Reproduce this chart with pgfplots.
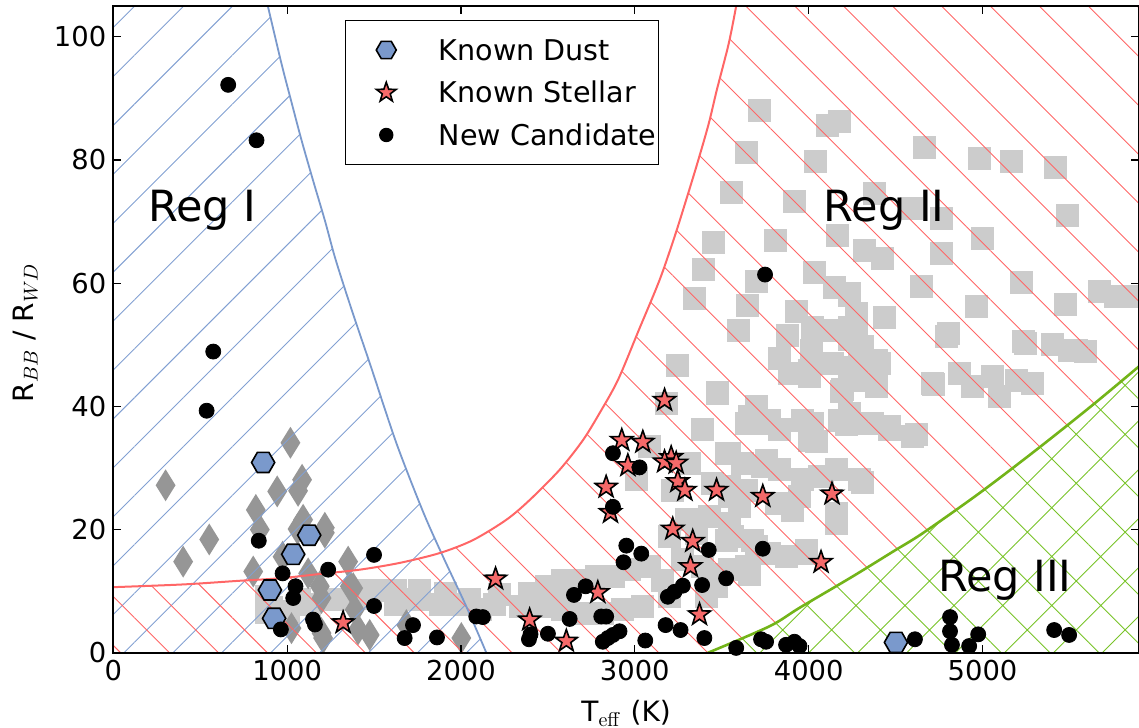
\documentclass[border=0pt]{standalone}
\usepackage[no-math]{fontspec}
\setmainfont{DejaVu Sans}
\usepackage{pgfplots}
\pgfplotsset{compat=1.18}
\usetikzlibrary{patterns.meta,calc}
\definecolor{sqgray}{RGB}{204,204,204}
\definecolor{dmgray}{RGB}{150,150,150}
\definecolor{bluel}{RGB}{122,153,204}
\definecolor{bluehatch}{RGB}{130,160,210}
\definecolor{redl}{RGB}{255,102,102}
\definecolor{starfill}{RGB}{245,105,105}
\definecolor{greenl}{RGB}{115,180,25}
\definecolor{greenhatch}{RGB}{120,195,40}
\pgfdeclareplotmark{hexag}{%
 \pgfpathmoveto{\pgfpointpolar{0}{\pgfplotmarksize}}%
 \pgfpathlineto{\pgfpointpolar{60}{\pgfplotmarksize}}%
 \pgfpathlineto{\pgfpointpolar{120}{\pgfplotmarksize}}%
 \pgfpathlineto{\pgfpointpolar{180}{\pgfplotmarksize}}%
 \pgfpathlineto{\pgfpointpolar{240}{\pgfplotmarksize}}%
 \pgfpathlineto{\pgfpointpolar{300}{\pgfplotmarksize}}%
 \pgfpathclose\pgfusepathqfillstroke}
\pgfdeclareplotmark{fstar}{%
 \pgfpathmoveto{\pgfpointpolar{90}{\pgfplotmarksize}}%
 \pgfpathlineto{\pgfpointpolar{126}{0.4\pgfplotmarksize}}%
 \pgfpathlineto{\pgfpointpolar{162}{\pgfplotmarksize}}%
 \pgfpathlineto{\pgfpointpolar{198}{0.4\pgfplotmarksize}}%
 \pgfpathlineto{\pgfpointpolar{234}{\pgfplotmarksize}}%
 \pgfpathlineto{\pgfpointpolar{270}{0.4\pgfplotmarksize}}%
 \pgfpathlineto{\pgfpointpolar{306}{\pgfplotmarksize}}%
 \pgfpathlineto{\pgfpointpolar{342}{0.4\pgfplotmarksize}}%
 \pgfpathlineto{\pgfpointpolar{18}{\pgfplotmarksize}}%
 \pgfpathlineto{\pgfpointpolar{54}{0.4\pgfplotmarksize}}%
 \pgfpathclose\pgfusepathqfillstroke}
\pgfdeclareplotmark{tdiam}{%
 \pgfpathmoveto{\pgfqpoint{0pt}{\pgfplotmarksize}}%
 \pgfpathlineto{\pgfqpoint{0.62\pgfplotmarksize}{0pt}}%
 \pgfpathlineto{\pgfqpoint{0pt}{-\pgfplotmarksize}}%
 \pgfpathlineto{\pgfqpoint{-0.62\pgfplotmarksize}{0pt}}%
 \pgfpathclose\pgfusepathqfill}
\pgfplotsset{mylegimg/.style={legend image code/.code={\path (0pt,0pt) (27pt,0pt); \draw[##1, mark size=#1] plot coordinates {(19pt,0pt)};}}}

\pgfplotstableread{
x y
880 9.1
880 6.5
910 7.3
1010 6.7
1070 8.6
1130 7.9
1250 8.6
1360 8.6
1390 10.2
1480 8.9
1490 10.2
1620 7.9
1620 10.2
1750 8.6
1760 10.2
1880 7.9
1910 9.6
1990 7.9
2050 8.6
2110 7.0
2190 7.8
2220 9.5
2340 7.5
2450 8.0
2480 8.6
2600 8.9
3717 88.0
4109 85.6
4176 86.2
3644 81.3
4038 79.7
3554 74.7
3918 73.3
4377 74.6
3452 66.7
3809 67.0
4167 67.8
4320 65.4
4425 64.0
3395 62.3
3701 60.3
4033 61.7
4148 59.4
4234 58.1
3343 57.6
3649 56.4
3931 55.4
4435 54.5
3596 52.3
3879 51.6
4023 52.9
4100 52.4
4215 52.4
4272 51.3
3831 47.8
3889 45.4
4014 49.1
4061 47.0
4004 44.8
4310 49.7
4406 47.0
4253 46.4
4320 44.3
4186 42.4
3247 46.7
3477 42.2
3698 40.0
4665 82.0
4981 80.2
5167 79.8
5418 78.8
4588 72.1
4761 70.5
5488 71.0
5000 67.2
4761 64.9
4646 59.5
5221 60.1
5479 56.6
4962 56.2
5671 58.6
5767 57.8
5862 57.8
4805 51.9
5234 50.6
5402 50.0
5498 49.1
5594 48.9
4234 58.3
4272 55.1
4234 52.9
4291 48.6
4387 47.5
4349 44.3
4234 44.3
4717 43.5
4866 45.4
4942 43.2
5057 44.8
5096 41.6
5192 44.3
5287 43.7
4234 38.9
4368 37.3
4464 36.7
4617 35.4
4234 50.8
4790 51.3
5249 50.2
5537 49.1
4713 43.7
4004 45.9
4138 47.0
4368 47.0
4195 42.7
4387 43.2
4023 37.3
4176 37.8
4349 37.3
4464 36.2
4598 35.1
4004 34.5
4061 28.6
4157 29.7
4291 28.1
4157 22.7
3985 16.7
3946 25.4
3640 37.3
3774 37.8
3966 37.8
4042 34.3
4215 37.0
3544 32.4
3755 31.3
3966 28.1
4080 28.6
4308 27.6
3544 27.0
3602 23.7
3813 24.3
3908 23.2
4157 21.0
3678 18.3
3870 15.6
3985 16.2
3525 18.3
3477 42.1
3180 40.5
3391 36.2
3659 38.3
3755 37.3
3831 36.2
3084 33.5
3314 30.8
3525 32.4
3621 30.8
3736 30.2
3831 29.7
3008 28.1
3218 26.4
3448 27.5
3544 25.4
3640 26.4
3295 21.6
3429 22.1
3544 21.0
3199 18.9
3353 19.4
3563 18.9
3698 17.2
3774 16.2
3276 15.1
3391 14.0
3544 13.5
3640 14.0
3161 11.8
3084 14.0
2969 13.5
2874 12.4
2778 12.4
2682 11.8
2586 11.8
2491 10.8
2395 9.7
3199 9.1
3046 7.5
2931 7.0
2816 6.4
2701 6.4
2586 7.0
2471 7.5
3410 9.1
3468 10.8
3486 12.7
3659 12.7
}\squares

\pgfplotstableread{
x y
301 27.2
552 18.4
402 14.8
1019 34.1
943 26.2
1086 28.1
1063 26.3
820 23.2
1092 21.6
1060 20.1
1217 19.5
974 15.6
805 13.2
1121 12.9
1351 14.8
1188 10.8
1361 10.8
1389 7.0
1198 8.9
1198 3.2
1025 4.0
1408 3.8
1475 2.9
2002 2.4
1686 4.5
1217 20.3
843 20.0
1207 2.4
1380 10.5
}\diamonds

\pgfplotstableread{
x y
661 92.2
824 83.2
575 48.9
537 39.3
837 18.2
974 12.9
1048 10.8
1035 8.9
1149 5.4
1160 4.6
964 3.8
1236 13.5
1500 15.9
1500 7.6
1724 4.5
1676 2.4
1862 2.5
2088 5.9
2126 5.8
2391 2.2
2400 3.0
2500 3.1
2625 5.5
2650 9.4
2717 10.8
2807 5.9
2835 5.9
2816 1.8
2845 2.4
2874 2.9
2912 3.5
2874 32.4
3027 30.1
2951 17.4
3037 16.1
2935 14.7
2874 23.7
3060 2.0
3177 4.5
3263 3.7
3190 9.1
3228 9.9
3276 10.9
3400 2.4
3387 11.0
3425 16.7
3525 12.1
3736 16.9
3583 0.8
3726 2.2
3755 1.8
3870 1.3
3918 1.8
3947 1.1
3749 61.4
4611 2.2
4813 5.8
4813 3.5
4824 1.3
4923 1.1
4975 3.0
5412 3.7
5498 2.9
}\candidates

\pgfplotstableread{
x y
1322 4.9
2199 12.0
2395 5.35
2606 1.9
2787 9.8
3171 41.0
2925 34.5
3046 34.2
2960 30.4
3209 31.7
3171 31.0
3238 30.8
3247 27.8
3288 26.4
2835 26.9
2860 22.8
3470 26.4
3736 25.4
4134 25.8
3218 20.1
3333 18.1
3320 14.0
4071 14.7
3372 6.2
}\stellar

\pgfplotstableread{
x y
862 30.9
1127 19.1
1035 16.0
901 10.2
925 5.6
4502 1.7
}\dust

\begin{document}
\begin{tikzpicture}
\begin{axis}[name=ax,
  width=513pt, height=323.5pt, scale only axis,
  xmin=0, xmax=5900, ymin=0, ymax=105,
  xtick={0,1000,2000,3000,4000,5000},
  ytick={0,20,40,60,80,100},
  scaled x ticks=false,
  /pgf/number format/1000 sep={},
  /pgf/number format/assume math mode=true,
  tick label style={font=\fontsize{13.7}{16}\selectfont},
  tick align=inside, tick pos=both, major tick length=4pt,
  tick style={black, line width=0.6pt},
  axis line style={line width=0.8pt},
  axis on top=true,
  clip mode=individual,
  xlabel={T$_{\mathrm{eff}}$ (K)},
  ylabel={R$_{BB}$ / R$_{WD}$},
  label style={font=\fontsize{14}{17}\selectfont},
  xlabel style={at={(axis description cs:0.5,-0.1066)}, anchor=base},
  ylabel style={at={(axis description cs:-0.078,0.495)}, anchor=base},
  legend style={at={(axis description cs:0.226,0.978)}, anchor=north west,
    draw=black, line width=0.6pt, fill=white,
    font=\fontsize{14.3}{17}\selectfont,
    inner xsep=1pt, inner ysep=9.5pt, row sep=11pt, column sep=18pt,
    nodes={inner sep=0pt, text height=10.2pt, text depth=0pt}},
  legend cell align=left,
]
% background gray points
\addplot[only marks, mark=square*, mark size=5.5pt, color=sqgray, forget plot] table {\squares};
\addplot[only marks, mark=tdiam, mark size=8pt, color=dmgray, forget plot] table {\diamonds};
% hatched regions
\addplot[draw=none, pattern={Lines[angle=45,distance=17.3pt,line width=0.45pt]}, pattern color=bluehatch, forget plot]
 coordinates {(0,0) (0,105) (889,105) (968,95.6) (1025,89.4) (1083,83.2) (1149,76.7) (1217,70.2) (1274,64.3) (1341,58.3) (1408,52.6) (1485,46.2) (1629,34.0) (1782,22.9) (1897,15.6) (2031,7.5) (2146,0)} --cycle;
\addplot[draw=none, pattern={Lines[angle=-45,distance=17.3pt,line width=0.45pt]}, pattern color=redl, forget plot]
 coordinates {(0,0) (0,10.66) (400,11.1) (728,11.7) (958,12.1) (1188,12.8) (1418,13.5) (1648,14.6) (1878,16.2) (2069,18.3) (2261,21.6) (2395,24.8) (2567,29.7) (2701,34.5) (2797,38.9) (2903,44.3) (3023,52.4) (3142,60.5) (3228,67.5) (3295,73.5) (3362,79.7) (3425,85.9) (3471,91.3) (3540,98.9) (3583,105) (5900,105) (5900,46.5) (5632,40.2) (5307,32.9) (4981,25.9) (4655,19.4) (4483,16.4) (4253,12.4) (3947,7.3) (3774,4.3) (3420,0)} --cycle;
\addplot[draw=none, pattern={Hatch[angle=45,distance=17.3pt,line width=0.45pt]}, pattern color=greenhatch, forget plot]
 coordinates {(3420,0) (3774,4.3) (3947,7.3) (4253,12.4) (4483,16.4) (4655,19.4) (4981,25.9) (5307,32.9) (5632,40.2) (5900,46.5) (5900,0)} --cycle;
% boundary curves
\addplot[bluel, line width=0.9pt, smooth, forget plot]
 coordinates {(889,105) (968,95.6) (1025,89.4) (1083,83.2) (1149,76.7) (1217,70.2) (1274,64.3) (1341,58.3) (1408,52.6) (1485,46.2) (1629,34.0) (1782,22.9) (1897,15.6) (2031,7.5) (2146,0)};
\addplot[redl, line width=1pt, smooth, forget plot]
 coordinates {(0,10.66) (400,11.1) (728,11.7) (958,12.1) (1188,12.8) (1418,13.5) (1648,14.6) (1878,16.2) (2069,18.3) (2261,21.6) (2395,24.8) (2567,29.7) (2701,34.5) (2797,38.9) (2903,44.3) (3023,52.4) (3142,60.5) (3228,67.5) (3295,73.5) (3362,79.7) (3425,85.9) (3471,91.3) (3540,98.9) (3583,105)};
\addplot[greenl, line width=1.3pt, smooth, forget plot]
 coordinates {(3420,0) (3774,4.3) (3947,7.3) (4253,12.4) (4483,16.4) (4655,19.4) (4981,25.9) (5307,32.9) (5632,40.2) (5900,46.5)};
% region labels
\node[anchor=base, font=\fontsize{21.5}{25}\selectfont] at (axis cs:513,70) {Reg I};
\node[anchor=base, font=\fontsize{21.5}{25}\selectfont] at (axis cs:4435,70) {Reg II};
\node[anchor=base, font=\fontsize{21.5}{25}\selectfont] at (axis cs:5129,9.95) {Reg III};
% foreground markers
\addplot[only marks, mark=hexag, mark size=5.8pt, mark options={fill=bluel, draw=black, line width=0.8pt}, mylegimg=5pt] table {\dust};
\addlegendentry{Known Dust}
\addplot[only marks, mark=fstar, mark size=5.8pt, mark options={fill=starfill, draw=black, line width=0.8pt}, mylegimg=5.2pt] table {\stellar};
\addlegendentry{Known Stellar}
\addplot[only marks, mark=*, mark size=3.75pt, mark options={fill=black, draw=black}, mylegimg=3.3pt] table {\candidates};
\addlegendentry{New Candidate}
\end{axis}
\pgfresetboundingbox
\path[use as bounding box] ($(ax.south west)+(-56.65pt,-37.5pt)$) rectangle ($(ax.north east)+(0pt,3pt)$);
\end{tikzpicture}
\end{document}
